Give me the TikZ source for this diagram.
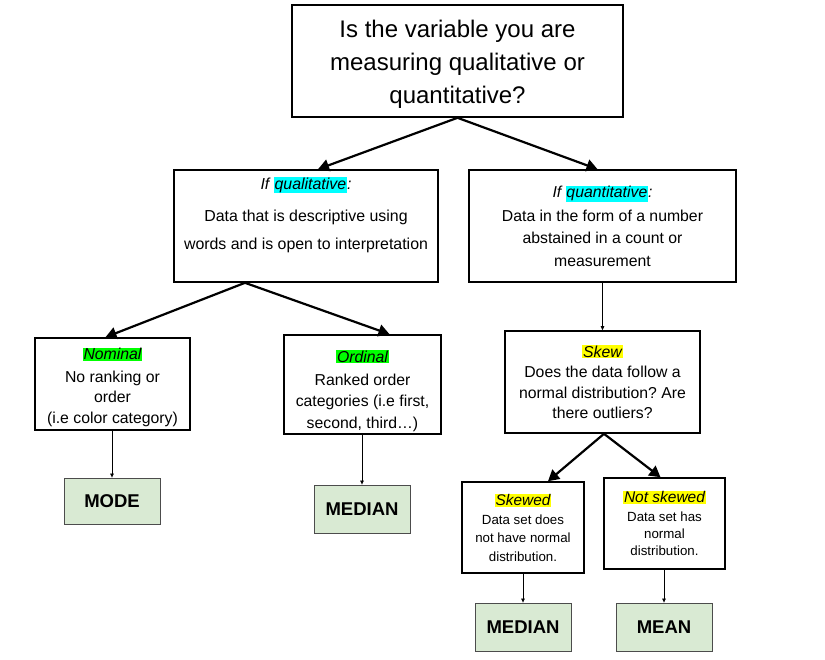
\documentclass[tikz,border=0pt]{standalone}
\usepackage{fontspec}
\setmainfont{Liberation Sans}
\usetikzlibrary{arrows.meta}
\definecolor{hlcyan}{HTML}{00FFFF}
\definecolor{hlgreen}{HTML}{00FF00}
\definecolor{hlyellow}{HTML}{FFFF00}
\definecolor{resfill}{HTML}{D9EAD3}
\newcommand{\hl}[2]{{\setlength{\fboxsep}{0.8pt}\colorbox{#1}{#2}}}
\frenchspacing
\tikzset{
  box/.style={draw=black, line width=1.6pt, fill=white, inner sep=0pt, align=center},
  resbox/.style={draw=black!70, line width=0.8pt, fill=resfill, inner sep=0pt, align=center, font=\fontsize{18.5}{20}\selectfont\bfseries},
  bigarrow/.style={line width=2.2pt, -{Triangle[length=11pt,width=12pt]}},
  thinarrow/.style={line width=0.7pt, -{Triangle[length=4pt,width=3.5pt]}}
}
\begin{document}
\begin{tikzpicture}[x=1pt,y=-1pt]
\useasboundingbox (0,0) rectangle (825,659);
\node[box, minimum width=331pt, minimum height=112pt, font=\fontsize{24}{33}\selectfont] (top) at (457.5,61)
  {\rule{0pt}{23pt}Is the variable you are\\measuring qualitative or\\quantitative?};
\node[box, minimum width=264pt, minimum height=112pt, font=\fontsize{15.9}{28}\selectfont] (qual) at (306,226)
  {\textit{If \hl{hlcyan}{qualitative}:}\\[4pt]Data that is descriptive using\\words and is open to interpretation\\[-2pt]\mbox{}};
\node[box, minimum width=267pt, minimum height=112pt, font=\fontsize{15.8}{22.5}\selectfont] (quant) at (602.5,226)
  {\textit{If \hl{hlcyan}{quantitative}:}\\[1pt]Data in the form of a number\\abstained in a count or\\measurement};
\node[box, minimum width=155pt, minimum height=92pt, font=\fontsize{15.8}{20.5}\selectfont] (nom) at (112.5,384)
  {\rule{0pt}{18.5pt}\textit{\hl{hlgreen}{Nominal}}\\[2pt]No ranking or\\order\\(i.e color category)};
\node[box, minimum width=157pt, minimum height=99pt, font=\fontsize{15.8}{21.5}\selectfont] (ord) at (362.5,384.5)
  {\rule{0pt}{24.5pt}\textit{\hl{hlgreen}{Ordinal}}\\[1.5pt]Ranked order\\categories (i.e first,\\second, third…)};
\node[box, minimum width=195pt, minimum height=102pt, font=\fontsize{15.8}{20.5}\selectfont] (skew) at (602.5,382)
  {\textit{\hl{hlyellow}{Skew}}\\Does the data follow a\\normal distribution? Are\\there outliers?};
\node[box, minimum width=122pt, minimum height=91pt, font=\fontsize{13.3}{18.5}\selectfont] (skd) at (523,527.5)
  {\textit{\fontsize{15.4}{18.5}\selectfont\hl{hlyellow}{Skewed}}\\Data set does\\not have normal\\distribution.};
\node[box, minimum width=121pt, minimum height=91pt, font=\fontsize{13.3}{17}\selectfont] (nsk) at (664.5,523.5)
  {\textit{\fontsize{15.5}{17}\selectfont\hl{hlyellow}{Not skewed}}\\[2pt]Data set has\\normal\\distribution.};
\node[resbox, minimum width=96pt, minimum height=46pt] (mode) at (112,501) {MODE};
\node[resbox, minimum width=96pt, minimum height=48pt] (med1) at (362,509) {MEDIAN};
\node[resbox, minimum width=96pt, minimum height=48pt] (med2) at (523,627) {MEDIAN};
\node[resbox, minimum width=96pt, minimum height=48pt] (mean) at (664,627) {MEAN};
\draw[bigarrow] (top.south) -- ([xshift=12pt]qual.north);
\draw[bigarrow] (top.south) -- ([xshift=-5pt]quant.north);
\draw[bigarrow] ([xshift=-61pt]qual.south) -- ([xshift=-7pt]nom.north);
\draw[bigarrow] ([xshift=-61pt]qual.south) -- ([xshift=27pt]ord.north);
\draw[thinarrow] (quant.south) -- (skew.north);
\draw[bigarrow] ([xshift=1.5pt]skew.south) -- ([xshift=25pt]skd.north);
\draw[bigarrow] ([xshift=1.5pt]skew.south) -- ([xshift=-4pt]nsk.north);
\draw[thinarrow] (nom.south -| mode.north) -- (mode.north);
\draw[thinarrow] (ord.south -| med1.north) -- (med1.north);
\draw[thinarrow] (skd.south) -- (med2.north);
\draw[thinarrow] (nsk.south -| mean.north) -- (mean.north);
\end{tikzpicture}
\end{document}
